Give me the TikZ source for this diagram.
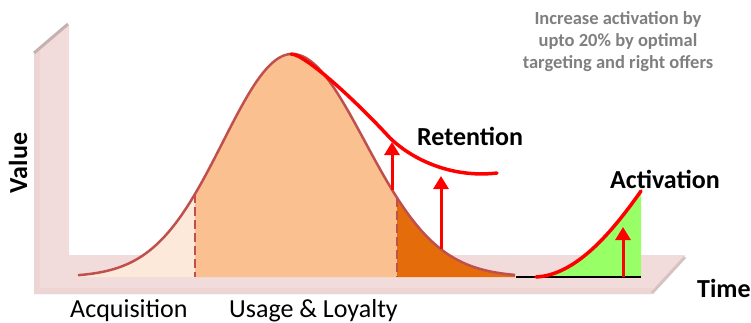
\documentclass[tikz,border=0pt]{standalone}
\usepackage{fontspec}
\setmainfont{Carlito}
\usetikzlibrary{arrows.meta}
\definecolor{wallpink}{HTML}{F2DCDB}
\definecolor{walledge}{HTML}{EDD5D4}
\definecolor{wallgrey}{HTML}{C4B1B1}
\definecolor{floorgrey}{HTML}{D6C2C2}
\definecolor{peachL}{HTML}{FDE9D9}
\definecolor{peachM}{HTML}{FAC090}
\definecolor{peachD}{HTML}{E46C0A}
\definecolor{bellline}{HTML}{C0504D}
\definecolor{actgreen}{HTML}{99FF66}
\definecolor{notegrey}{HTML}{7F7F7F}
\tikzset{
  declare function={
    bellL(\x)=277-223*exp(-0.5*((\x-292)/69)^2);
    bellR(\x)=277-223*exp(-0.5*((\x-292)/73)^2);
  },
  bellout/.style={draw=bellline,line width=2.5pt},
  divider/.style={draw=bellline,line width=2.8pt,dash pattern=on 9pt off 4pt},
  redcurve/.style={draw=red,line width=3.5pt,line cap=round},
  uparrow/.style={draw=red,line width=3pt,-{Triangle[width=15pt,length=13pt]}},
  biglabel/.style={font=\bfseries\fontsize{26}{30}\selectfont,inner sep=0pt,anchor=base west},
  phaselabel/.style={font=\fontsize{26}{30}\selectfont,inner sep=0pt,anchor=base west},
  note/.style={font=\bfseries\fontsize{18.5}{22}\selectfont,text=notegrey,align=center,inner sep=0pt},
}
\begin{document}
\begin{tikzpicture}[x=1pt,y=-1pt]
\useasboundingbox (0,0) rectangle (751,322);
% wall and floor
\fill[wallpink] (34,54) -- (68,25) -- (69,25) -- (69,255) -- (685,255) -- (652,294) -- (34,294) -- cycle;
\fill[walledge] (34,54) -- (40,49) -- (40,288) -- (652,288) -- (652,294) -- (34,294) -- cycle;
\draw[wallgrey,line width=3pt] (34,53) -- (68,24);
\draw[floorgrey,line width=3pt] (652,293) -- (685,257);
% bell fills
\fill[peachL] plot[domain=78:195,samples=50] (\x,{bellL(\x)}) -- (195,277) -- (78,277) -- cycle;
\fill[peachM] plot[domain=195:292,samples=50] (\x,{bellL(\x)}) -- plot[domain=292:397,samples=50] (\x,{bellR(\x)}) -- (397,277) -- (195,277) -- cycle;
\fill[peachD] plot[domain=397:515,samples=50] (\x,{bellR(\x)}) -- (515,277) -- (397,277) -- cycle;
% dividers
\coordinate (d1t) at (195,{bellL(195)});
\coordinate (d1b) at (195,277);
\coordinate (d2t) at (397,{bellR(397)});
\coordinate (d2b) at (397,277);
\draw[divider] (d1t) -- (d1b);
\draw[divider] (d2t) -- (d2b);
% bell outline
\draw[bellout] plot[domain=78:292,samples=80] (\x,{bellL(\x)}) -- plot[domain=292:515,samples=80] (\x,{bellR(\x)});
% activation
\coordinate (a0) at (536,277);
\coordinate (a1) at (641,191);
\coordinate (bl0) at (516,277);
\coordinate (bl1) at (641,277);
\fill[actgreen] (a0) .. controls (575,275) and (610,235) .. (a1) -- (bl1) -- cycle;
\draw[black,line width=2.5pt] (bl0) -- (bl1);
\draw[redcurve] (a0) .. controls (575,275) and (610,235) .. (a1);
% retention curve
\coordinate (r0) at (291,54);
\coordinate (r1) at (390,138);
\coordinate (r2) at (497,173);
\draw[redcurve] (r0) .. controls (305,54) and (355,100) .. (r1) .. controls (415,162) and (455,178) .. (r2);
% arrows
\coordinate (u1s) at (392,{bellR(392)});
\coordinate (u1e) at (392,142);
\coordinate (u2s) at (441,{bellR(441)});
\coordinate (u2e) at (441,176);
\coordinate (u3s) at (623,277);
\coordinate (u3e) at (623,227);
\draw[uparrow] (u1s) -- (u1e);
\draw[uparrow] (u2s) -- (u2e);
\draw[uparrow] (u3s) -- (u3e);
% labels
\node[note] (notetxt) at (618,42) {Increase activation by\\upto 20\% by optimal\\targeting and right offers};
\node[biglabel] (ret) at (417,145) {Retention};
\node[biglabel] (act) at (610,188) {Activation};
\node[biglabel] (time) at (697,297) {Time};
\node[biglabel,rotate=90,anchor=base] (val) at (27,163) {Value};
\node[phaselabel] (acq) at (70,317) {Acquisition};
\node[phaselabel] (use) at (229,317) {Usage \& Loyalty};
\end{tikzpicture}
\end{document}
